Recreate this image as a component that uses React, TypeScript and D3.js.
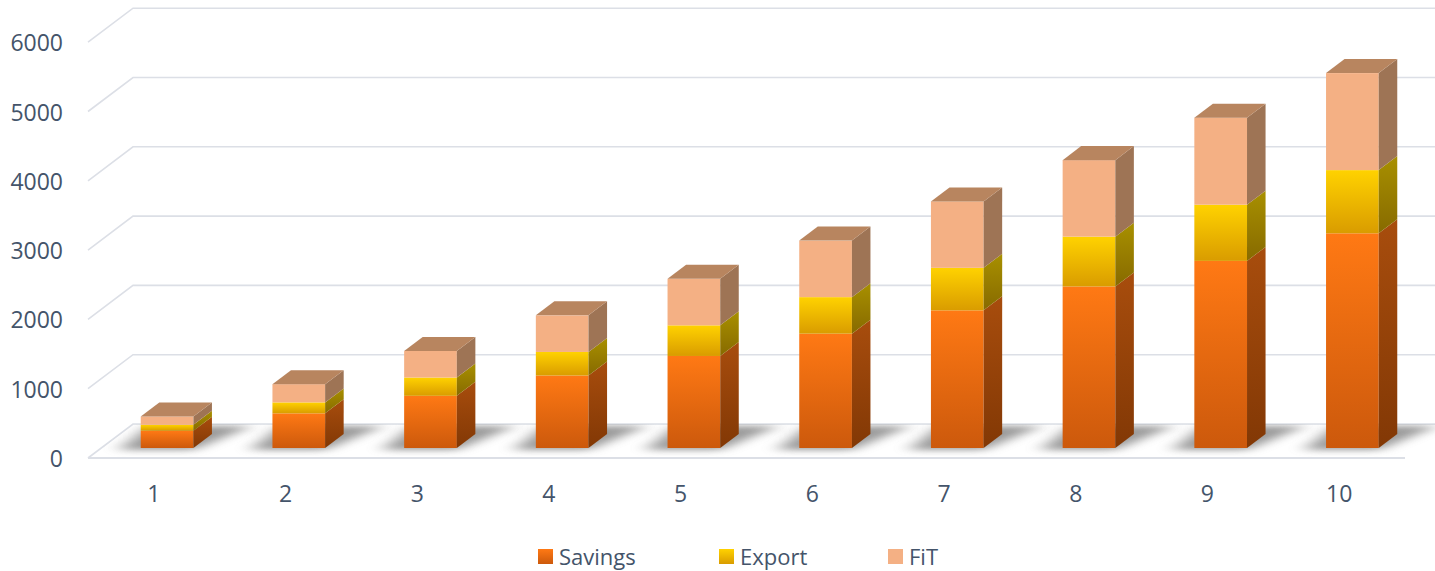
import React from 'react';
import * as d3 from 'd3';

const categories = ['1', '2', '3', '4', '5', '6', '7', '8', '9', '10'];
const savings = [250, 500, 753, 1046, 1328, 1650, 1986, 2331, 2700, 3098];
const exportVals = [85, 158, 264, 340, 442, 527, 614, 719, 811, 912];
const fit = [120, 263, 383, 528, 671, 816, 958, 1104, 1256, 1400];
const yTicks = [0, 1000, 2000, 3000, 4000, 5000, 6000];
const seriesNames = ['Savings', 'Export', 'FiT'];

const W = 1435;
const H = 571;
const FONT = '"Open Sans", "Noto Sans", sans-serif';
const TEXT = '#44546a';
const GRID = '#dcdfe6';

// geometry
const X0 = 88;
const X1 = 1405;
const YFRONT = 458;
const DX = 45;
const DY = -34;
const T0 = 0.294;
const T1 = 0.706;

const faces = [
  { frontTop: '#ff7914', frontBot: '#cc590c', sideTop: '#a84d0d', sideBot: '#823805', top: '#b8845f' },
  { frontTop: '#ffd200', frontBot: '#d99c00', sideTop: '#a89000', sideBot: '#876a00', top: '#b8845f' },
  { frontTop: '#f4b084', frontBot: '#f4b084', sideTop: '#9e7455', sideBot: '#9e7455', top: '#b8855f' },
];

export default function App() {
  const rows = categories.map((c, i) => ({ cat: c, Savings: savings[i], Export: exportVals[i], FiT: fit[i] }));
  const stacked = d3.stack<any>().keys(seriesNames)(rows);

  const x = d3.scaleBand<string>().domain(categories).range([X0, X1]).paddingInner(0.6).paddingOuter(0.3);
  const h = d3.scaleLinear().domain([0, 6000]).range([0, 415.8]);
  const bw = x.bandwidth();

  const fx = T0 * DX;
  const fy = T0 * DY;
  const ddx = (T1 - T0) * DX;
  const ddy = (T1 - T0) * DY;
  const baseY = YFRONT + fy;

  const pts = (arr: number[][]) => arr.map((p) => p.join(',')).join(' ');

  return (
    <svg width={W} height={H} style={{ position: 'absolute', left: 0, top: 0, background: '#fff' }} fontFamily={FONT}>
      <defs>
        {faces.map((f, i) => (
          <React.Fragment key={i}>
            <linearGradient id={`front${i}`} x1="0" y1="0" x2="0" y2="1">
              <stop offset="0" stopColor={f.frontTop} />
              <stop offset="1" stopColor={f.frontBot} />
            </linearGradient>
            <linearGradient id={`side${i}`} x1="0" y1="0" x2="0" y2="1">
              <stop offset="0" stopColor={f.sideTop} />
              <stop offset="1" stopColor={f.sideBot} />
            </linearGradient>
          </React.Fragment>
        ))}
        <filter id="shadowBlur" x="-50%" y="-50%" width="200%" height="200%">
          <feGaussianBlur stdDeviation="9 3" />
        </filter>
        <clipPath id="floorClip">
          <polygon points={pts([[X0, YFRONT - 1], [X0 + DX, YFRONT + DY], [W, YFRONT + DY], [W, YFRONT - 1]])} />
        </clipPath>
      </defs>

      {/* back wall gridlines */}
      {yTicks.map((t) => {
        const yf = YFRONT - h(t);
        return (
          <polyline
            key={t}
            points={pts([[X0, yf], [X0 + DX, yf + DY], [W, yf + DY]])}
            fill="none"
            stroke={GRID}
            strokeWidth={1.6}
          />
        );
      })}
      {/* floor front edge */}
      <line x1={X0} y1={YFRONT} x2={X1} y2={YFRONT} stroke={GRID} strokeWidth={2} />

      {/* y tick labels */}
      {yTicks.map((t) => (
        <text key={t} x={63} y={YFRONT - h(t)} textAnchor="end" dominantBaseline="central" fontSize={23} fill={TEXT}>
          {t}
        </text>
      ))}

      {/* category labels */}
      {categories.map((c) => (
        <text key={c} x={(x(c) as number) + bw / 2} y={493} textAnchor="middle" dominantBaseline="central" fontSize={23} fill={TEXT}>
          {c}
        </text>
      ))}

      {/* shadows */}
      <g clipPath="url(#floorClip)">
        {categories.map((c) => {
          const bx = (x(c) as number) + fx;
          return (
            <polygon
              key={c}
              filter="url(#shadowBlur)"
              points={pts([
                [bx - 22, baseY + 2],
                [bx + bw, baseY + 2],
                [bx + bw + 58, YFRONT + DY + 2],
                [bx + 8, YFRONT + DY + 2],
              ])}
              fill="#6f6f6f"
              opacity={0.7}
            />
          );
        })}
      </g>

      {/* bars */}
      {categories.map((c, ci) => {
        const bx = (x(c) as number) + fx;
        return (
          <g key={c}>
            {stacked.map((s, si) => {
              const y0 = baseY - h(s[ci][0]);
              const y1 = baseY - h(s[ci][1]);
              const isTop = si === stacked.length - 1;
              return (
                <g key={si}>
                  <rect x={bx} y={y1} width={bw} height={y0 - y1} fill={`url(#front${si})`} />
                  <polygon
                    points={pts([[bx + bw, y1], [bx + bw + ddx, y1 + ddy], [bx + bw + ddx, y0 + ddy], [bx + bw, y0]])}
                    fill={`url(#side${si})`}
                  />
                  {isTop && (
                    <polygon
                      points={pts([[bx, y1], [bx + ddx, y1 + ddy], [bx + bw + ddx, y1 + ddy], [bx + bw, y1]])}
                      fill={faces[si].top}
                    />
                  )}
                </g>
              );
            })}
          </g>
        );
      })}

      {/* legend */}
      {seriesNames.map((n, i) => {
        const lx = [538, 719, 888][i];
        return (
          <g key={n}>
            <rect x={lx} y={549} width={15} height={15} fill={`url(#front${i})`} />
            <text x={lx + 21} y={556} dominantBaseline="central" fontSize={22} fill={TEXT}>
              {n}
            </text>
          </g>
        );
      })}
    </svg>
  );
}
